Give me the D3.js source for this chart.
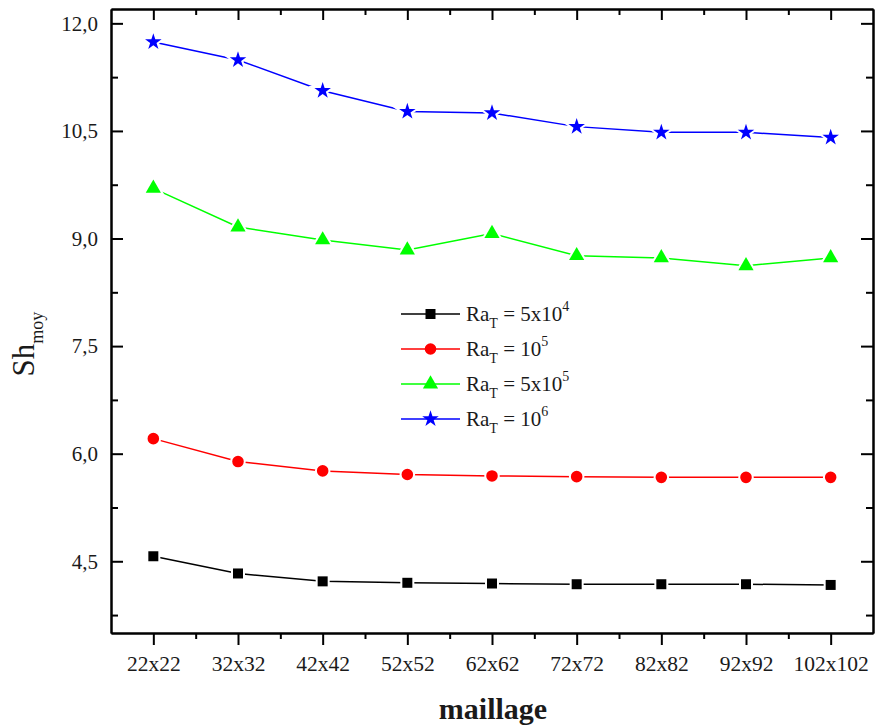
<!DOCTYPE html>
<html>
<head>
<meta charset="utf-8">
<script src="https://cdn.jsdelivr.net/npm/d3@7"></script>
<style>
  html, body { margin: 0; padding: 0; background: #fff; }
  svg { display: block; }
  text { font-family: "Liberation Serif", "Times New Roman", serif; fill: #1a1a1a; }
</style>
</head>
<body>
<svg id="chart" width="875" height="727"></svg>
<script>
// Mesh sizes tested
const meshes = ["22x22", "32x32", "42x42", "52x52", "62x62", "72x72", "82x82", "92x92", "102x102"];

// Mean Sherwood number for each thermal Rayleigh number
const sh_Ra5e4 = [4.57, 4.33, 4.22, 4.20, 4.19, 4.18, 4.18, 4.18, 4.17];
const sh_Ra1e5 = [6.21, 5.89, 5.76, 5.71, 5.69, 5.68, 5.67, 5.67, 5.67];
const sh_Ra5e5 = [9.70, 9.16, 8.98, 8.84, 9.07, 8.76, 8.73, 8.62, 8.73];
const sh_Ra1e6 = [11.74, 11.49, 11.06, 10.77, 10.75, 10.56, 10.48, 10.48, 10.41];

// Y tick values
const yMajor = [4.5, 6.0, 7.5, 9.0, 10.5, 12.0];
const yMinor = [3.75, 5.25, 6.75, 8.25, 9.75, 11.25];

// Legend entries: base, subscript, middle, superscript
const legendParts = [
  ["Ra", "T", " = 5x10", "4"],
  ["Ra", "T", " = 10", "5"],
  ["Ra", "T", " = 5x10", "5"],
  ["Ra", "T", " = 10", "6"]
];

const series = [
  { values: sh_Ra5e4, color: "#000000", symbol: d3.symbolSquare, size: 100 },
  { values: sh_Ra1e5, color: "#ff0000", symbol: d3.symbolCircle, size: 105 },
  { values: sh_Ra5e5, color: "#00ff00", symbol: d3.symbolTriangle, size: 100 },
  { values: sh_Ra1e6, color: "#0000ff", symbol: d3.symbolStar, size: 85 }
];

const svg = d3.select("#chart");
const plotL = 111, plotR = 873, plotT = 9, plotB = 633;

const x = d3.scaleLinear().domain([-0.5, meshes.length - 0.5]).range([plotL, plotR]);
const y = d3.scaleLinear().domain([3.5, 12.2]).range([plotB, plotT]);

const idx = d3.range(meshes.length);
const xMinor = idx.slice(0, -1).map(i => i + 0.5);

function styleAxis(g) {
  g.attr("font-family", null);
  g.selectAll("path.domain").attr("stroke", "#000").attr("stroke-width", 2);
  g.selectAll(".tick line").attr("stroke", "#000").attr("stroke-width", 2);
  g.selectAll("text").attr("fill", "#1a1a1a");
}

// Bottom axis (ticks outward, labelled)
svg.append("g")
  .attr("transform", `translate(0,${plotB})`)
  .call(d3.axisBottom(x).tickValues(idx).tickFormat(i => meshes[i])
    .tickSizeInner(12).tickSizeOuter(0).tickPadding(11))
  .call(styleAxis)
  .call(g => g.selectAll("text").attr("font-size", 21.5));
svg.append("g")
  .attr("transform", `translate(0,${plotB})`)
  .call(d3.axisBottom(x).tickValues(xMinor).tickFormat("").tickSizeInner(6).tickSizeOuter(0))
  .call(styleAxis);

// Top axis (inward ticks, no labels)
svg.append("g")
  .attr("transform", `translate(0,${plotT})`)
  .call(d3.axisTop(x).tickValues(idx).tickFormat("").tickSizeInner(-11).tickSizeOuter(0))
  .call(styleAxis);
svg.append("g")
  .attr("transform", `translate(0,${plotT})`)
  .call(d3.axisTop(x).tickValues(xMinor).tickFormat("").tickSizeInner(-6).tickSizeOuter(0))
  .call(styleAxis);

// Left axis (inward ticks, labelled)
svg.append("g")
  .attr("transform", `translate(${plotL},0)`)
  .call(d3.axisLeft(y).tickValues(yMajor).tickFormat(v => d3.format(".1f")(v).replace(".", ","))
    .tickSizeInner(-12).tickSizeOuter(0).tickPadding(13))
  .call(styleAxis)
  .call(g => g.selectAll("text").attr("font-size", 21));
svg.append("g")
  .attr("transform", `translate(${plotL},0)`)
  .call(d3.axisLeft(y).tickValues(yMinor).tickFormat("").tickSizeInner(-7).tickSizeOuter(0))
  .call(styleAxis);

// Right axis (inward ticks)
svg.append("g")
  .attr("transform", `translate(${plotR},0)`)
  .call(d3.axisRight(y).tickValues(yMajor).tickFormat("").tickSizeInner(-12).tickSizeOuter(0))
  .call(styleAxis);
svg.append("g")
  .attr("transform", `translate(${plotR},0)`)
  .call(d3.axisRight(y).tickValues(yMinor).tickFormat("").tickSizeInner(-7).tickSizeOuter(0))
  .call(styleAxis);

// Series lines and markers
const line = d3.line().x((d, i) => x(i)).y(d => y(d));
series.forEach(s => {
  svg.append("path")
    .datum(s.values)
    .attr("d", line)
    .attr("fill", "none")
    .attr("stroke", s.color)
    .attr("stroke-width", 1.5);
  svg.append("g").selectAll("path")
    .data(s.values)
    .join("path")
    .attr("d", d3.symbol(s.symbol, s.size))
    .attr("transform", (d, i) => `translate(${x(i)},${y(d)})`)
    .attr("fill", s.color)
    .attr("stroke", "#fff")
    .attr("stroke-width", 4)
    .style("paint-order", "stroke");
});

// Legend
const legend = svg.append("g").attr("transform", "translate(401,314)");
series.forEach((s, i) => {
  const row = legend.append("g").attr("transform", `translate(0,${i * 35})`);
  row.append("line").attr("x1", 0).attr("x2", 59).attr("y1", 0).attr("y2", 0)
    .attr("stroke", s.color).attr("stroke-width", 1.5);
  row.append("path").attr("d", d3.symbol(s.symbol, s.size)())
    .attr("transform", "translate(29.5,0)").attr("fill", s.color);
  const p = legendParts[i];
  const t = row.append("text").attr("x", 65).attr("y", 7).attr("font-size", 21);
  t.append("tspan").text(p[0]);
  t.append("tspan").attr("font-size", 14).attr("dy", 7).text(p[1]);
  t.append("tspan").attr("dy", -7).text(p[2]);
  t.append("tspan").attr("font-size", 14).attr("dy", -10).text(p[3]);
});

// Axis titles
const yt = svg.append("text")
  .attr("transform", "translate(34,344) rotate(-90)")
  .attr("text-anchor", "middle")
  .attr("font-size", 31);
yt.append("tspan").text("Sh");
yt.append("tspan").attr("font-size", 18).attr("dy", 9).text("moy");

svg.append("text")
  .attr("x", 493).attr("y", 719)
  .attr("text-anchor", "middle")
  .attr("font-size", 30)
  .attr("font-weight", "bold")
  .text("maillage");
</script>
</body>
</html>
